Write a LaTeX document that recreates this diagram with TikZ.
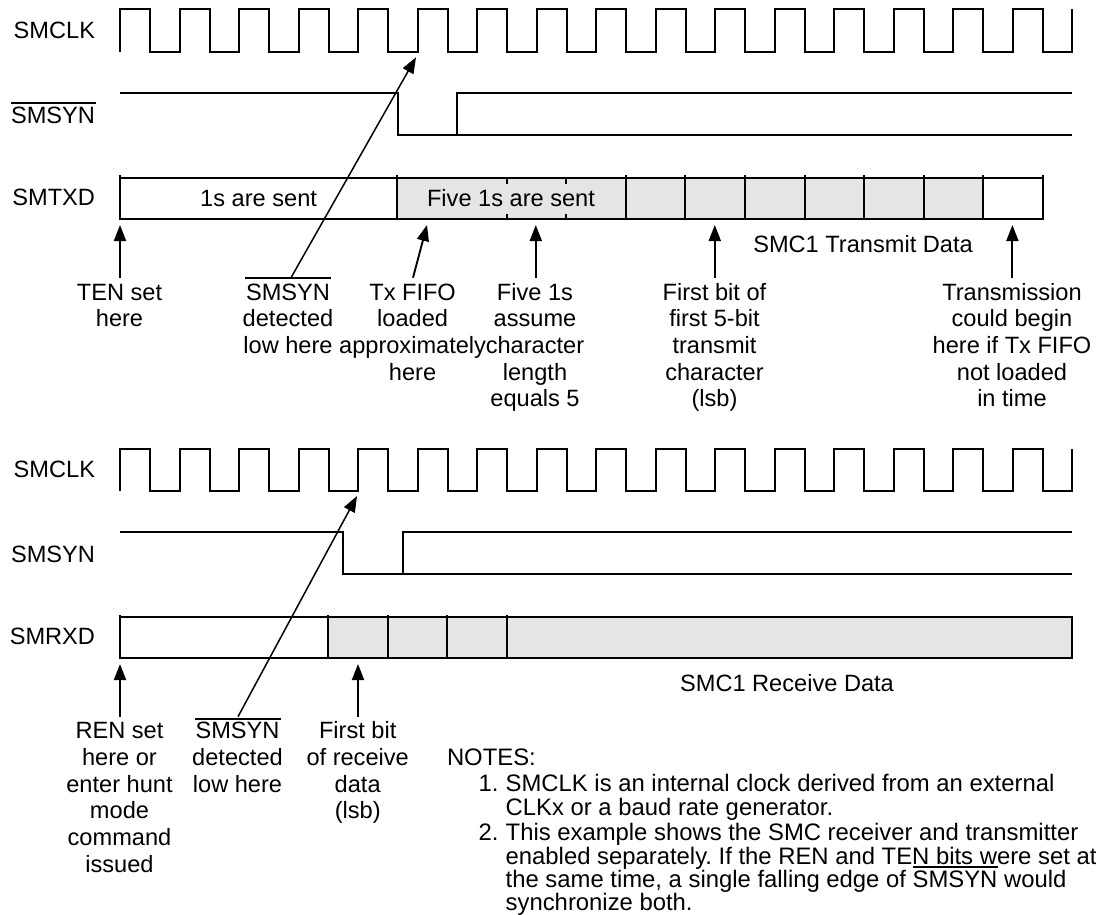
\documentclass[tikz,border=0pt]{standalone}
\usepackage{fontspec}
\setmainfont{Liberation Sans}
\usetikzlibrary{arrows.meta}
\definecolor{cellgray}{HTML}{E5E5E5}
\newcommand{\lbl}{\fontsize{23.6}{26.7}\selectfont}
\newcommand{\ntsa}{\fontsize{23.85}{24}\selectfont\frenchspacing}
\newcommand{\ntsb}{\fontsize{23.85}{23.33}\selectfont\frenchspacing}
\begin{document}
\begin{tikzpicture}[x=1pt,y=-1pt,
  txt/.style={inner sep=0pt,outer sep=0pt,font=\lbl,align=center,anchor=base},
  sig/.style={inner sep=0pt,outer sep=0pt,font=\lbl,anchor=base east},
  note/.style={inner sep=0pt,outer sep=0pt,font=\ntsa,align=left,anchor=base west},
  wave/.style={line width=2pt,miter limit=10},
  bar/.style={line width=1.7pt},
  arrowline/.style={line width=1.9pt,-{Triangle[length=16pt,width=12pt]}},
  slant/.style={line width=1.5pt,-{Triangle[length=16pt,width=12pt]}},
  cell/.style={fill=cellgray,draw=none}]
\useasboundingbox (0,0) rectangle (1096,915);
% ---------- signal labels
\node[sig] (clkA) at (95,39) {SMCLK};
\node[sig] (synA) at (95,124) {SMSYN};
\node[sig] (txd) at (95,205) {SMTXD};
\node[sig] (clkB) at (95,477.3) {SMCLK};
\node[sig] (synB) at (95,562.7) {SMSYN};
\node[sig] (rxd) at (95,644.3) {SMRXD};
\coordinate (obA) at (10.5,103); \coordinate (obB) at (96,103);
\draw[bar] (obA) -- (obB);
% ---------- clocks
\foreach \yh/\yl in {9.3/52, 449.3/490.7}{
  \draw[wave] (120,\yl) -- (120,\yh)
    \foreach \k in {0,...,15}{
      -- ({150+59.5*\k},\yh) -- ({150+59.5*\k},\yl)
      -- ({179.5+59.5*\k},\yl) -- ({179.5+59.5*\k},\yh)
    };
}
% ---------- sync lines
\draw[wave] (120,92.7) -- (398,92.7) -- (398,134.7) -- (457,134.7) -- (457,92.7) -- (1072,92.7);
\draw[wave] (457,134.7) -- (1072,134.7);
\draw[wave] (120,531.7) -- (343,531.7) -- (343,573.7) -- (403,573.7) -- (403,531.7) -- (1072,531.7);
\draw[wave] (403,573.7) -- (1072,573.7);
% ---------- SMTXD
\fill[cell] (397,177.7) rectangle (983,218.7);
\draw[wave] (120,177.7) rectangle (1043,218.7);
\foreach \x in {120,397,626,685,745,805,864,924,983,1043}{
  \draw[bar] (\x,175.5) -- (\x,218.7);
}
\foreach \x in {507,566}{
  \draw[bar] (\x,177.7) -- (\x,184.5);
  \draw[bar] (\x,214.5) -- (\x,218.7);
}
\node[txt] (sent1) at (258.6,206.7) {1s are sent};
\node[txt] (sent5) at (511,206.7) {Five 1s are sent};
\node[txt] (txdata) at (863,252) {SMC1 Transmit Data};
% ---------- SMRXD
\fill[cell] (328,616.7) rectangle (1072,658);
\draw[wave] (120,616.7) rectangle (1072,658);
\draw[line width=2.8pt] (328,615) -- (328,658);
\foreach \x in {388,447,507}{
  \draw[bar] (\x,615) -- (\x,658);
}
\draw[bar] (120,615) -- (120,658);
\node[txt] (rxdata) at (787,691.7) {SMC1 Receive Data};
% ---------- upper callouts
\node[txt] (ten) at (119.5,326.7) {TEN set\\here};
\node[txt] (det) at (288,353.4) {SMSYN\\detected\\low here};
\node[txt] (fifo) at (412.6,380.1) {Tx FIFO\\loaded\\approximately\\here};
\node[txt] (five) at (535,406.8) {Five 1s\\assume\\character\\length\\equals 5};
\node[txt] (first) at (714.5,406.8) {First bit of\\first 5-bit\\transmit\\character\\(lsb)};
\node[txt] (trans) at (1012,406.8) {Transmission\\could begin\\here if Tx FIFO\\not loaded\\in time};
\coordinate (detL) at (245,278.3); \coordinate (detR) at (331,278.3);
\draw[bar] (detL) -- (detR);
\coordinate (tenT) at (120,277.7);
\coordinate (tenH) at (120,225);
\coordinate (detT) at (291,277.7);
\coordinate (detH) at (416,57.3);
\coordinate (fifoT) at (413,277.7);
\coordinate (fifoH) at (427,225);
\coordinate (fiveT) at (535.8,277.7);
\coordinate (fiveH) at (535.8,225);
\coordinate (firstT) at (714.8,277.7);
\coordinate (firstH) at (714.8,225);
\coordinate (transT) at (1012.4,277.7);
\coordinate (transH) at (1012.4,225);
\draw[arrowline] (tenT) -- (tenH);
\draw[slant] (detT) -- (detH);
\draw[arrowline] (fifoT) -- (fifoH);
\draw[arrowline] (fiveT) -- (fiveH);
\draw[arrowline] (firstT) -- (firstH);
\draw[arrowline] (transT) -- (transH);
% ---------- lower callouts
\node[txt] (ren) at (119.5,872.3) {REN set\\here or\\enter hunt\\mode\\command\\issued};
\node[txt] (det2) at (237.5,792) {SMSYN\\detected\\low here};
\node[txt] (first2) at (357.7,818.7) {First bit\\of receive\\data\\(lsb)};
\coordinate (det2L) at (195,718.7); \coordinate (det2R) at (281,718.7);
\draw[bar] (det2L) -- (det2R);
\coordinate (renT) at (120,716.7);
\coordinate (renH) at (120,664);
\coordinate (det2T) at (238,716.7);
\coordinate (det2H) at (357,496);
\coordinate (first2T) at (358,716.7);
\coordinate (first2H) at (358,664);
\draw[arrowline] (renT) -- (renH);
\draw[slant] (det2T) -- (det2H);
\draw[arrowline] (first2T) -- (first2H);
% ---------- notes
\node[note] (notes) at (447,765.7) {NOTES:};
\node[note] (n1) at (478.5,791.7) {1.};
\node[note] (n1t) at (505.7,815.7) {SMCLK is an internal clock derived from an external\\CLKx or a baud rate generator.};
\node[note] (n2) at (478.5,840.7) {2.};
\node[note,font=\ntsb] (n2t) at (505.7,910.7) {This example shows the SMC receiver and transmitter\\enabled separately. If the REN and TEN bits were set at\\the same time, a single falling edge of SMSYN would\\synchronize both.};
\coordinate (ovL) at (912.8,866.7); \coordinate (ovR) at (997.7,866.7);
\draw[bar] (ovL) -- (ovR);
\end{tikzpicture}
\end{document}
